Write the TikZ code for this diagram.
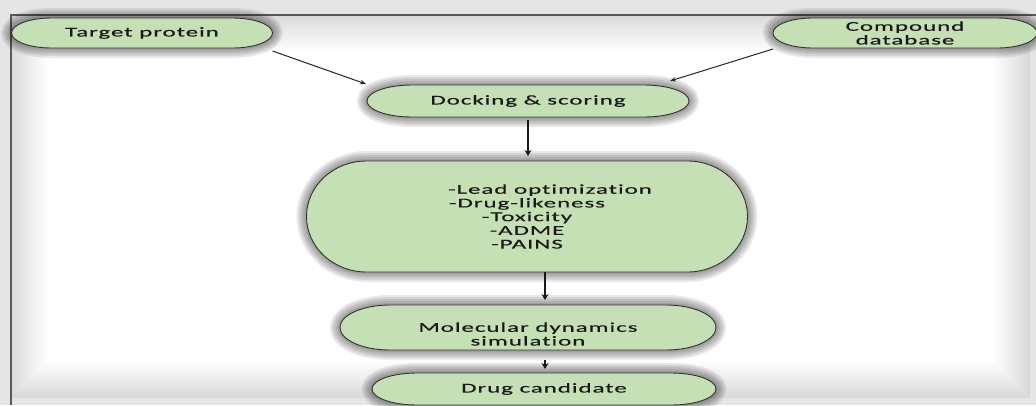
\documentclass[tikz,border=0pt]{standalone}
\usepackage{fontspec}
\setmainfont{Carlito}[FakeStretch=1.85,LetterSpace=7,Ligatures={NoCommon},FakeBold=0.4]
\usetikzlibrary{calc,arrows.meta}
\pgfdeclarelayer{back}
\pgfdeclarelayer{mid}
\pgfsetlayers{back,mid,main}
\definecolor{boxgreen}{HTML}{C5E0B4}
\definecolor{edgecol}{HTML}{333333}
\tikzset{
  txt/.style={align=center, font=\fontsize{13.5}{13.7}\selectfont, text=black!90, inner sep=0pt},
  box/.style={txt, outer sep=0pt},
  arr/.style={draw=black!85, line width=1pt, -{Stealth[length=6pt,width=4.5pt]}},
  varr/.style={draw=black!90, line width=1.6pt, -{Stealth[length=6pt,width=7pt]}},
  shapefill/.style={fill=boxgreen, draw=edgecol, line width=0.9pt},
}
\newcommand\stad[3]{%
  \path[#1] let \p1=(#2.north west), \p2=(#2.south east), \n1={(\y1-\y2)/2} in
    (\x1+#3,\y1) -- (\x2-#3,\y1)
    arc[start angle=90,end angle=-90,x radius=#3,y radius=\n1]
    -- (\x1+#3,\y2)
    arc[start angle=270,end angle=90,x radius=#3,y radius=\n1] -- cycle;}
\newcommand\glowstad[2]{%
  \foreach \w in {4,8,12,16,20}{\stad{draw=black,line width=\w pt,opacity=0.085}{#1}{#2}}%
  \stad{shapefill}{#1}{#2}}
\begin{document}
\begin{tikzpicture}[x=1pt,y=-1pt]
\useasboundingbox (0,0) rectangle (1036,405);
% nodes
\node[box, minimum width=261pt, minimum height=30pt] (tp) at (142,33) {Target protein};
\node[box, minimum width=264pt, minimum height=30pt] (cd) at (905,33) {Compound\\database};
\node[box, minimum width=322pt, minimum height=32pt] (dock) at (528,101) {Docking \& scoring};
\node[box, minimum width=441pt, minimum height=111pt] (lead) at (527,216.5)
  {\hspace*{46pt}-Lead optimization\\-Drug-likeness\\-Toxicity\\-ADME\\-PAINS};
\node[box, minimum width=376pt, minimum height=45pt] (md) at (528,327.5) {};
\node[txt] (mdt) at (528,334) {Molecular dynamics\\simulation};
\node[box, minimum width=344pt, minimum height=32pt] (dc) at (544,389) {Drug candidate};
% background and frame
\begin{pgfonlayer}{back}
  \fill[black!10] (0,0) rectangle (1036,405);
  \fill[white] (11,15) rectangle (1030,398);
  \foreach \i in {0,...,11}{%
    \pgfmathsetmacro\op{0.012*(12-\i)}
    \draw[black, opacity=\op, line width=3pt]
      (12.5+3*\i, 16.5+3*\i) rectangle (1028.5-3*\i, 396.5-3*\i);}
  \draw[black!65, line width=1.2pt] (11,405) -- (11,15) -- (1036,15);
\end{pgfonlayer}
% shapes
\begin{pgfonlayer}{mid}
  \glowstad{tp}{40pt}
  \glowstad{cd}{40pt}
  \glowstad{dock}{45pt}
  \glowstad{lead}{60pt}
  \glowstad{md}{50pt}
  \glowstad{dc}{45pt}
\end{pgfonlayer}
% connectors
\draw[arr] ([yshift=-3pt]tp.south east) -- ([shift={(-1pt,1pt)}]dock.north west);
\draw[arr] ([yshift=-1pt]cd.south west) -- ([shift={(-19pt,4pt)}]dock.north east);
\draw[varr] ($(dock.south)+(0,3)$) -- ($(dock.south |- lead.north)+(0,-5)$);
\draw[varr] ($(lead.south)+(18,0)$) -- ($(md.north)+(17,-5)$);
\draw[varr] ($(md.south)+(17,10)$) -- ($(dc.north)+(1,-4)$);
\end{tikzpicture}
\end{document}
